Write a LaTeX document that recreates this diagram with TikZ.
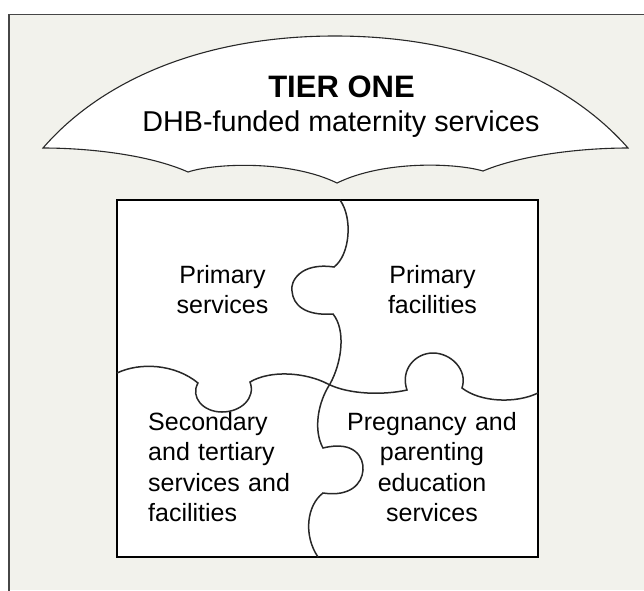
\documentclass[tikz,border=0pt]{standalone}
\usepackage{fontspec}
\setmainfont{Liberation Sans}
\definecolor{panelbg}{RGB}{242,242,236}
\definecolor{framegray}{RGB}{70,70,70}
\definecolor{inkgray}{RGB}{40,40,40}
\tikzset{
  frameline/.style={draw=framegray, line width=1.5pt},
  canopy/.style={fill=white, draw=inkgray, line width=1.1pt, line join=miter},
  boardbox/.style={fill=white, draw=black, line width=1.5pt},
  seam/.style={draw=inkgray, line width=1.5pt},
  label/.style={inner sep=0pt, font=\fontsize{25}{30.5}\selectfont, text=black},
  titlebig/.style={inner sep=0pt, font=\fontsize{31}{36}\selectfont\bfseries, text=black},
  titlesub/.style={inner sep=0pt, font=\fontsize{28.7}{34}\selectfont, text=black}
}
\begin{document}
\begin{tikzpicture}[x=1pt, y=-1pt]
  \useasboundingbox (0,0) rectangle (644,590);
  % page and panel background
  \fill[white] (0,0) rectangle (644,590);
  \fill[panelbg] (9,14.5) rectangle (644,590);
  \draw[frameline] (650,14.5) -- (9,14.5) -- (9,600);

  % umbrella canopy
  \path[canopy] (43,148)
    .. controls (100,82) and (200,36) .. (335,36)
    .. controls (470,36) and (570,82) .. (628,148)
    .. controls (581,148) and (521,155) .. (483,171)
    .. controls (456,163) and (384,160) .. (337,183)
    .. controls (290,160) and (215,163) .. (188,172)
    .. controls (150,155) and (90,148) .. (43,148) -- cycle;
  \node[titlebig, anchor=base] (tier) at (341.5,97) {TIER ONE};
  \node[titlesub, anchor=base] (dhb) at (341,131) {DHB-funded maternity services};

  % puzzle board
  \path[boardbox] (117,200) rectangle (538,557);

  % vertical seam with its two knobs
  \draw[seam] (340,200)
    .. controls (353,218) and (350,255) .. (334,267)
    .. controls (300,262) and (290,282) .. (292,291)
    .. controls (293,305) and (305,316) .. (333,314)
    .. controls (346,330) and (342,362) .. (330,384)
    .. controls (318,402) and (313,430) .. (323,448)
    .. controls (355,440) and (364,458) .. (363,470)
    .. controls (362,484) and (350,497) .. (323,493)
    .. controls (307,505) and (303,535) .. (318,557);

  % horizontal seam with its two knobs
  \draw[seam] (117,373)
    .. controls (140,362) and (175,364) .. (198,383)
    .. controls (190,397) and (203,412) .. (222,412)
    .. controls (241,412) and (256,398) .. (250,382)
    .. controls (270,370) and (305,372) .. (328,384)
    .. controls (350,395) and (385,395) .. (407,390)
    .. controls (400,370) and (415,353) .. (433,353)
    .. controls (451,353) and (468,370) .. (462,388)
    .. controls (480,402) and (515,404) .. (538,393);

  % piece labels
  \node[label, anchor=base, text width=170pt, align=center] (psvc) at (222.5,283) {Primary\\services};
  \node[label, anchor=base, text width=170pt, align=center] (pfac) at (432.5,283) {Primary\\facilities};
  \node[label, anchor=base west, text width=165pt, align=left] (sec) at (148,430) {Secondary\\and tertiary\\services and\\facilities};
  \node[label, anchor=base, text width=190pt, align=center] (preg) at (432,430) {Pregnancy and\\parenting\\education\\services};
\end{tikzpicture}
\end{document}
